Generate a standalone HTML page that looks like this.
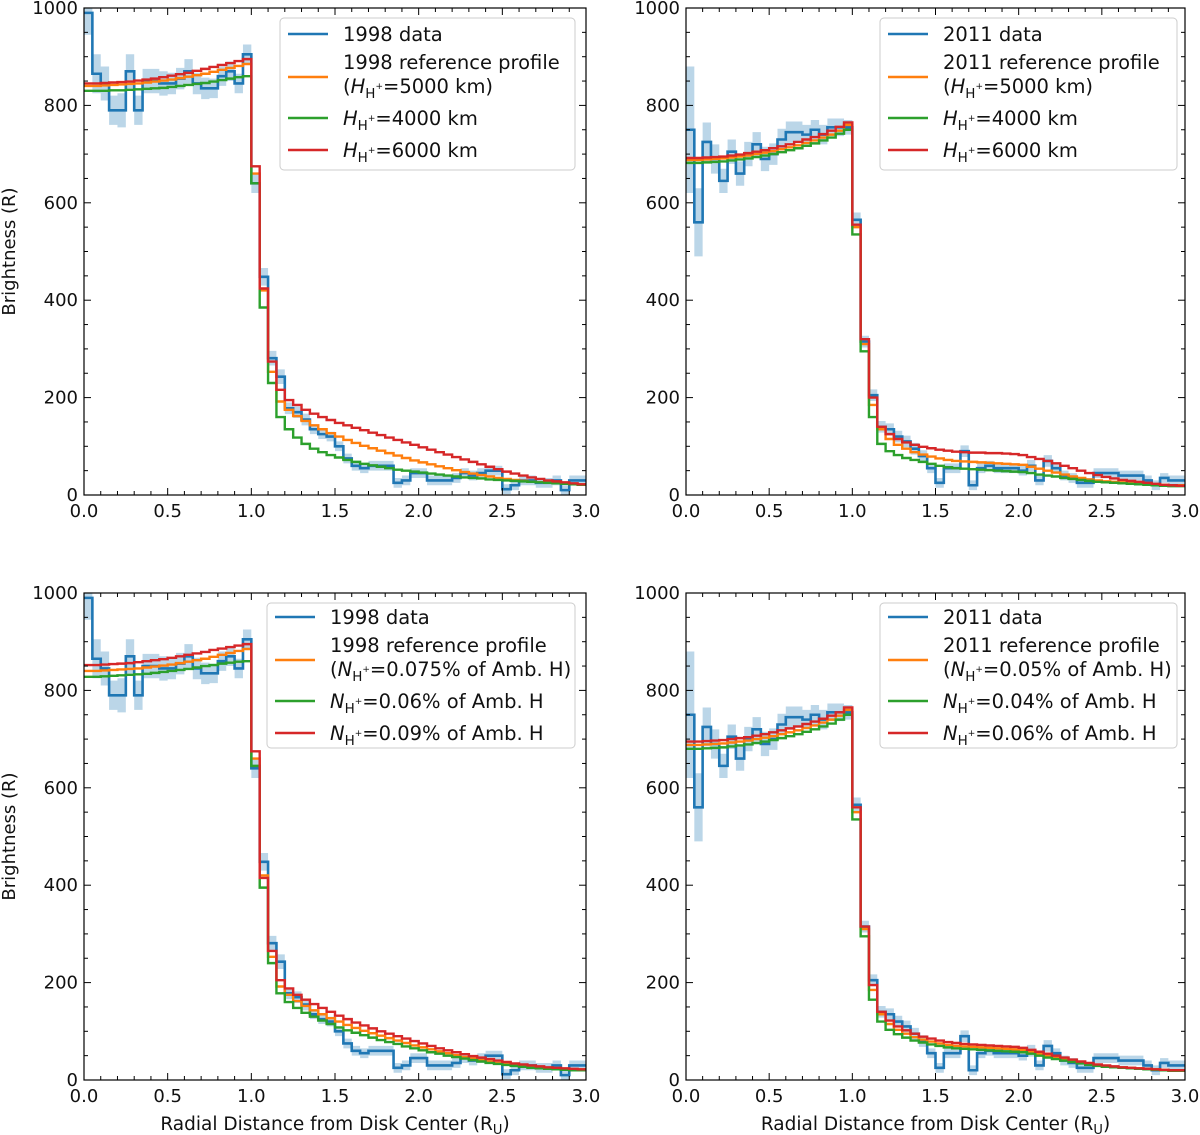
<!DOCTYPE html>
<html><head><meta charset="utf-8"><style>
body{margin:0;background:#fff;}
svg{display:block;font-family:"DejaVu Sans","Liberation Sans",sans-serif;}
</style></head><body>
<svg id="fig" width="1200" height="1135" viewBox="0 0 1200 1135" xmlns="http://www.w3.org/2000/svg"></svg>
<script>
const binWidth = 0.05;
const yTicks = [0,200,400,600,800,1000];
const xTicks = [0.0,0.5,1.0,1.5,2.0,2.5,3.0];
const xTickLabels = ["0.0","0.5","1.0","1.5","2.0","2.5","3.0"];

const data1998 = [990,865,845,790,790,870,790,850,850,845,845,855,870,845,835,835,860,870,845,905,
 640,448,281,243,178,170,155,135,125,120,100,75,60,55,60,60,60,25,30,45,45,30,30,30,35,45,40,45,50,50,12,20,30,30,25,25,30,10,30,30];
const err1998 = [45,40,35,30,35,35,30,25,25,25,22,22,25,22,22,20,20,20,20,20,
 20,18,15,15,12,12,12,10,10,10,10,10,10,10,10,10,10,10,10,10,10,10,10,10,10,10,10,10,10,10,10,10,10,10,10,10,10,10,10,10];
const data2011 = [750,560,725,690,645,705,660,700,720,690,700,730,745,745,740,750,740,755,755,755,
 565,315,205,140,135,120,110,95,80,55,25,55,55,90,20,55,60,55,55,55,50,60,30,70,55,40,35,25,25,45,45,45,40,40,40,30,20,35,30,30];
const err2011 = [130,70,40,30,25,25,25,25,25,25,22,22,22,22,20,20,20,18,18,15,
 15,12,12,12,12,12,12,12,12,10,10,10,10,12,10,10,10,10,10,10,10,12,10,12,10,10,10,10,10,10,10,10,10,10,10,10,10,10,10,10];

const o1998 = [840,840,841,842,843,844,845,847,849,851,853,856,859,862,865,869,873,877,881,885,
 660,420,253,192,175,162,152,143,135,127,120,113,107,101,96,91,86,81,76,71,67,63,59,55,51,47,44,41,38,35,33,31,29,27,26,25,24,23,22,22];
const g1998H = [830,830,830,831,831,832,833,834,835,836,838,840,842,844,846,849,852,855,858,860,
 640,385,230,160,135,118,105,95,88,82,77,72,68,64,61,58,55,52,50,48,46,44,42,40,38,36,35,34,32,31,30,29,28,27,26,25,24,23,22,21];
const r1998H = [845,845,846,847,848,849,851,853,855,858,861,864,867,871,875,879,883,887,891,895,
 675,424,274,216,195,185,175,167,160,154,148,143,138,133,128,123,118,113,108,103,98,93,88,83,78,73,68,63,58,53,48,44,40,36,33,30,28,26,24,22];
const g1998N = [828,828,829,830,831,832,833,834,836,838,840,842,844,847,850,852,855,857,859,860,
 645,395,240,178,160,148,138,130,122,115,108,102,97,92,87,82,78,74,69,65,61,57,54,50,47,44,41,38,35,33,31,29,27,25,24,23,22,21,20,20];
const r1998N = [852,852,853,854,855,856,858,860,862,864,867,870,873,876,879,883,886,889,892,895,
 675,415,265,205,188,175,165,156,148,140,132,125,118,112,106,100,95,90,85,80,75,70,65,61,57,53,49,46,43,40,37,34,32,30,28,26,25,24,23,22];
const o2011 = [688,688,689,690,691,693,695,697,700,703,706,710,714,718,723,728,734,740,748,760,
 550,310,185,135,115,103,95,88,83,79,75,72,70,69,68,67,66,65,64,63,62,58,54,50,46,42,38,35,32,30,28,27,26,25,24,23,22,21,20,20];
const g2011H = [682,682,683,684,685,687,689,691,694,697,700,704,708,712,717,722,728,734,742,750,
 535,295,160,105,90,82,76,72,68,64,60,57,55,54,53,52,51,50,49,48,47,45,42,40,38,35,33,31,29,27,26,25,24,23,22,21,20,19,18,18];
const r2011H = [692,692,693,694,695,697,699,702,705,708,712,716,720,725,730,735,741,748,756,765,
 555,320,200,140,125,115,108,103,99,96,93,91,89,88,87,87,86,86,85,84,82,78,74,70,65,60,55,50,45,41,37,34,31,29,27,25,23,21,20,19];
const g2011N = [680,680,681,682,683,685,687,689,692,695,698,702,706,710,715,720,726,732,740,750,
 535,295,165,120,103,94,87,81,77,73,70,67,65,64,63,62,61,60,59,58,57,54,50,46,43,40,37,34,31,29,27,26,25,24,23,22,21,20,19,19];
const r2011N = [695,695,696,697,698,700,702,704,707,710,714,718,722,726,731,736,742,748,755,765,
 560,315,195,140,122,110,102,95,89,85,81,78,76,74,73,72,71,70,69,68,66,62,58,54,50,46,42,38,35,32,30,28,26,25,24,23,22,21,20,20];

const NS = "http://www.w3.org/2000/svg";
const fig = document.getElementById('fig');
function mk(tag, attrs, parent){ const e=document.createElementNS(NS,tag); for(const k in attrs) e.setAttribute(k,attrs[k]); (parent||fig).appendChild(e); return e; }

const panels = [
 {name:'panel-1998-scale-height', x0:84,x1:586,yTop:8,yBot:495, data:data1998, err:err1998, models:[o1998,g1998H,r1998H], showX:false,
  leg:{x:280,y:18,w:295,h:152}, labels:[['1998 data'],['1998 reference profile','(H=5000 km)'],['H=4000 km'],['H=6000 km']], kind:'H'},
 {name:'panel-2011-scale-height', x0:686,x1:1185,yTop:8,yBot:495, data:data2011, err:err2011, models:[o2011,g2011H,r2011H], showX:false,
  leg:{x:880,y:18,w:297,h:152}, labels:[['2011 data'],['2011 reference profile','(H=5000 km)'],['H=4000 km'],['H=6000 km']], kind:'H'},
 {name:'panel-1998-density', x0:84,x1:586,yTop:593,yBot:1080, data:data1998, err:err1998, models:[o1998,g1998N,r1998N], showX:true,
  leg:{x:267,y:603,w:308,h:145}, labels:[['1998 data'],['1998 reference profile','(N=0.075% of Amb. H)'],['N=0.06% of Amb. H'],['N=0.09% of Amb. H']], kind:'N'},
 {name:'panel-2011-density', x0:686,x1:1185,yTop:593,yBot:1080, data:data2011, err:err2011, models:[o2011,g2011N,r2011N], showX:true,
  leg:{x:880,y:603,w:297,h:145}, labels:[['2011 data'],['2011 reference profile','(N=0.05% of Amb. H)'],['N=0.04% of Amb. H'],['N=0.06% of Amb. H']], kind:'N'}
];
const colors = ['#ff7f0e','#2ca02c','#d62728'];
const modelNames = ['reference-profile-line','lower-model-line','higher-model-line'];

function addLabelText(g, x, y, str){
  const t = mk('text',{x:x,y:y,'font-size':19.5,fill:'#111'},g);
  const m = str.match(/^(\(?)([HN])(=.*)$/);
  if(!m){ t.textContent = str; return t; }
  if(m[1]){ const a=mk('tspan',{},t); a.textContent=m[1]; }
  const it = mk('tspan',{'font-style':'italic','font-family':'"DejaVu Sans", sans-serif'},t); it.textContent=m[2];
  const sub = mk('tspan',{'font-size':13.5,dy:5},t); sub.textContent='H';
  const sup = mk('tspan',{'font-size':9,dy:-9},t); sup.textContent='+';
  const rest = mk('tspan',{dy:4},t); rest.textContent=m[3];
  return t;
}

panels.forEach(p=>{
  const g = mk('g',{});
  
  
  const X = v => p.x0 + (v/3.0)*(p.x1-p.x0);
  const Y = v => p.yBot - (v/1000)*(p.yBot-p.yTop);
  const clipId = 'clip-'+p.name;
  const cp = mk('clipPath',{id:clipId},g);
  mk('rect',{x:p.x0,y:p.yTop,width:p.x1-p.x0,height:p.yBot-p.yTop},cp);
  const plot = mk('g',{'clip-path':'url(#'+clipId+')'},g);
  let up='', dn='';
  p.data.forEach((v,i)=>{
    const xa=X(i*binWidth), xb=X((i+1)*binWidth);
    up += (i===0?'M':'L')+xa+','+Y(v+p.err[i])+'L'+xb+','+Y(v+p.err[i]);
  });
  for(let i=p.data.length-1;i>=0;i--){
    const v=p.data[i], xa=X(i*binWidth), xb=X((i+1)*binWidth);
    dn += 'L'+xb+','+Y(v-p.err[i])+'L'+xa+','+Y(v-p.err[i]);
  }
  const band = mk('path',{d:up+dn+'Z',fill:'#1f77b4','fill-opacity':0.3},plot);
  
  
  function stepPath(arr){
    let d='';
    arr.forEach((v,i)=>{ d += (i===0?'M':'L')+X(i*binWidth)+','+Y(v)+'L'+X((i+1)*binWidth)+','+Y(v); });
    return d;
  }
  const dl = mk('path',{d:stepPath(p.data),fill:'none',stroke:'#1f77b4','stroke-width':2.6},plot);
  
  
  p.models.forEach((m,k)=>{
    const ml = mk('path',{d:stepPath(m),fill:'none',stroke:colors[k],'stroke-width':2.4},plot);
    
    
  });
  mk('rect',{x:p.x0,y:p.yTop,width:p.x1-p.x0,height:p.yBot-p.yTop,fill:'none',stroke:'#000','stroke-width':1.2},g);
  for(let v=0; v<=1000; v+=50){
    const maj = v%200===0, L = maj?7:4, y=Y(v);
    mk('line',{x1:p.x0,x2:p.x0+L,y1:y,y2:y,stroke:'#000','stroke-width':1},g);
    mk('line',{x1:p.x1,x2:p.x1-L,y1:y,y2:y,stroke:'#000','stroke-width':1},g);
  }
  for(let k=0;k<=30;k++){
    const v=k/10, maj=k%5===0, L=maj?7:4, x=X(v);
    mk('line',{x1:x,x2:x,y1:p.yBot,y2:p.yBot-L,stroke:'#000','stroke-width':1},g);
    mk('line',{x1:x,x2:x,y1:p.yTop,y2:p.yTop+L,stroke:'#000','stroke-width':1},g);
  }
  yTicks.forEach(v=>{
    const t = mk('text',{x:p.x0-6,y:Y(v)+6,'font-size':18,'text-anchor':'end',fill:'#111'},g);
    t.textContent = String(v);
    
    
  });
  xTicks.forEach((v,i)=>{
    const t = mk('text',{x:X(v),y:p.yBot+22,'font-size':18,'text-anchor':'middle',fill:'#111'},g);
    t.textContent = xTickLabels[i];
    
    
  });
  if(p.x0<200){
    const yl = mk('text',{x:0,y:0,'font-size':18,'text-anchor':'middle',fill:'#111',transform:'translate(15,'+((p.yTop+p.yBot)/2)+') rotate(-90)'},g);
    yl.textContent='Brightness (R)';
    
    
  }
  if(p.showX){
    const xl = mk('text',{x:(p.x0+p.x1)/2,y:p.yBot+50,'font-size':18.5,'text-anchor':'middle',fill:'#111'},g);
    xl.textContent='Radial Distance from Disk Center (R';
    const s = mk('tspan',{'font-size':13,dy:4},xl); s.textContent='U';
    const c = mk('tspan',{dy:-4},xl); c.textContent=')';
    
    
  }
  const lg = mk('g',{},g);
  
  
  const L = p.leg;
  mk('rect',{x:L.x,y:L.y,width:L.w,height:L.h,rx:4,fill:'#fff','fill-opacity':0.85,stroke:'#ccc','stroke-width':1},lg);
  const dy = p.kind==='H' ? 0 : -2;
  const rows = [
    {lineY:L.y+16+dy, texts:[L.y+23+dy]},
    {lineY:L.y+59+dy, texts:[L.y+51+dy, L.y+75+dy]},
    {lineY:L.y+100+dy, texts:[L.y+107+dy]},
    {lineY:L.y+132+dy, texts:[L.y+139+dy]}
  ];
  const lc = ['#1f77b4'].concat(colors);
  const entryNames = ['legend-entry-data','legend-entry-reference','legend-entry-lower','legend-entry-higher'];
  rows.forEach((r,i)=>{
    const eg = mk('g',{},lg);
    
    
    mk('line',{x1:L.x+8,x2:L.x+48,y1:r.lineY,y2:r.lineY,stroke:lc[i],'stroke-width':2.6},eg);
    p.labels[i].forEach((s,j)=>{ addLabelText(eg, L.x+63, r.texts[j], s); });
  });
});
</script>
</body></html>
